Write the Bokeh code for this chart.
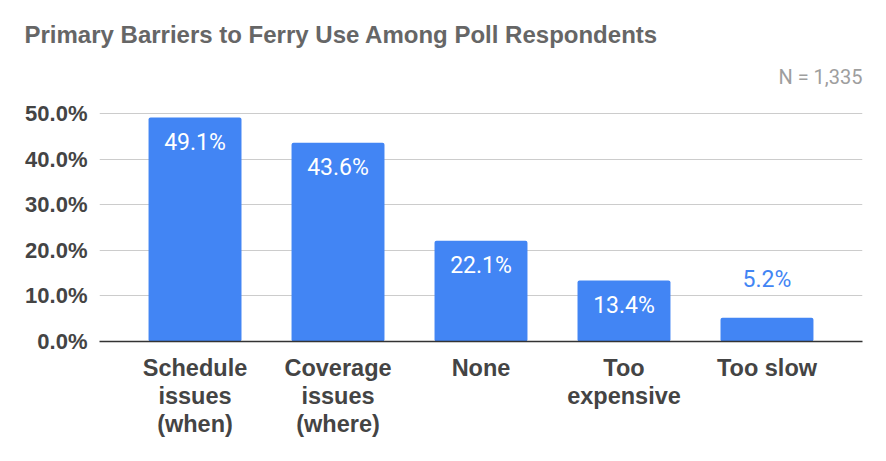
from bokeh.plotting import figure
from bokeh.models import FactorRange, Range1d, FixedTicker, PrintfTickFormatter, Title, ColumnDataSource
from bokeh.core.properties import value
from bokeh.embed import file_html
from bokeh.resources import INLINE

title = "Primary Barriers to Ferry Use Among Poll Respondents"
subtitle = "N = 1,335"
categories = ["Schedule\nissues\n(when)", "Coverage\nissues\n(where)", "None", "Too\nexpensive", "Too slow"]
percents = [49.1, 43.6, 22.1, 13.4, 5.2]
y_ticks = [0, 10, 20, 30, 40, 50]

BLUE = "#4285F4"
FONT = "Roboto"
AXFONT = "Liberation Sans"

p = figure(width=886, height=461, output_backend="svg", toolbar_location=None,
           x_range=FactorRange(*categories, range_padding=0.168, range_padding_units="absolute"),
           y_range=Range1d(0, 52.85),
           min_border_left=99, min_border_right=24, min_border_top=100, min_border_bottom=120,
           title=title)
p.outline_line_color = None
p.background_fill_color = "white"
p.border_fill_color = "white"

inside = [v >= 10 for v in percents]
src = ColumnDataSource(dict(
    x=categories, top=percents,
    lab=[f"{v:.1f}%" for v in percents],
    yoff=[25 if i else -38 for i in inside],
    col=["white" if i else BLUE for i in inside],
))

p.vbar(x="x", top="top", width=0.65, source=src, fill_color=BLUE, line_color=None,
       border_radius=2)
p.text(x="x", y="top", text="lab", source=src, y_offset="yoff", text_color="col",
       text_align="center", text_baseline="middle", text_font=value(FONT),
       text_font_size="23px")

p.yaxis.ticker = FixedTicker(ticks=y_ticks)
p.yaxis.formatter = PrintfTickFormatter(format="%.1f%%")
p.yaxis.axis_line_color = None
p.yaxis.major_tick_line_color = None
p.yaxis.minor_tick_line_color = None
p.yaxis.major_label_standoff = 6
p.yaxis.major_label_text_font = AXFONT
p.yaxis.major_label_text_font_style = "bold"
p.yaxis.major_label_text_font_size = "22px"
p.yaxis.major_label_text_color = "#444444"

p.xaxis.axis_line_color = "#333333"
p.xaxis.axis_line_width = 1.5
p.xaxis.major_tick_line_color = None
p.xaxis.minor_tick_line_color = None
p.xaxis.major_label_standoff = 7
p.xaxis.major_label_text_font = AXFONT
p.xaxis.major_label_text_font_style = "bold"
p.xaxis.major_label_text_font_size = "23.5px"
p.xaxis.major_label_text_color = "#444444"
p.xaxis.major_label_text_line_height = 1.09

p.xgrid.grid_line_color = None
p.ygrid.grid_line_color = "#cccccc"
p.ygrid.grid_line_width = 1

p.title.align = "left"
p.title.offset = -75
p.title.text_font = AXFONT
p.title.text_font_style = "bold"
p.title.text_font_size = "24px"
p.title.text_color = "#666666"
p.title.standoff = 6

p.add_layout(Title(text=subtitle, align="right", text_font=FONT,
                   text_font_style="normal", text_font_size="20px", text_color="#9e9e9e",
                   standoff=24), "above")

open("out.html", "w").write(file_html(p, INLINE))
